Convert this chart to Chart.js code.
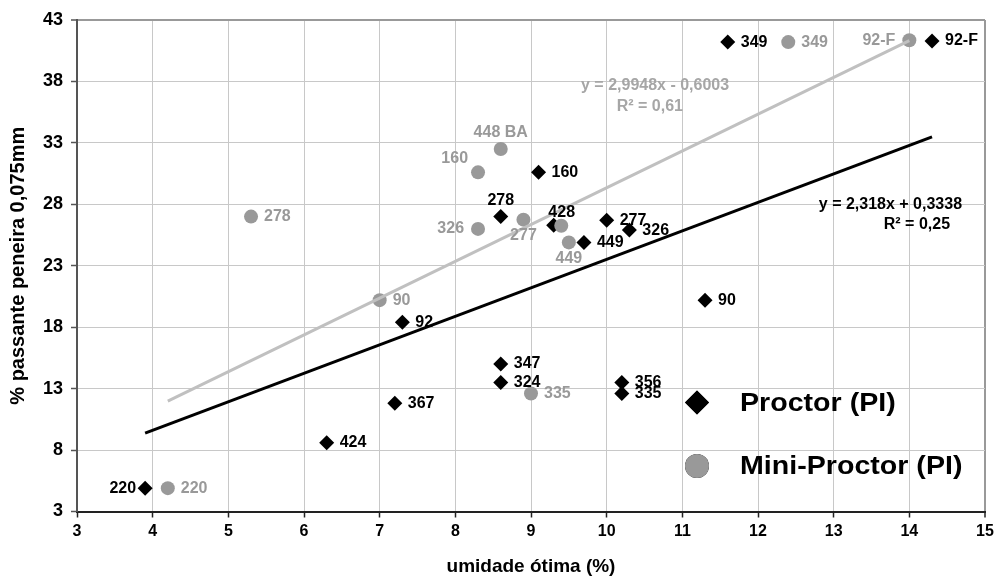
<!DOCTYPE html>
<html>
<head>
<meta charset="utf-8">
<script src="https://cdn.jsdelivr.net/npm/chart.js@4.4.1/dist/chart.umd.min.js"></script>
<style>
  html, body { margin: 0; padding: 0; background: #ffffff; }
  #wrap { width: 999px; height: 583px; position: relative; }
</style>
</head>
<body>
<div id="wrap"><canvas id="chart" width="999" height="583"></canvas></div>
<script>
// Proctor (PI) samples: optimum moisture (%) vs. % passing the 0,075mm sieve
const proctorNames = ['220', '424', '367', '92', '347', '324', '278', '160', '428', '449', '277', '326', '356', '335', '90', '349', '92-F'];
const proctorX     = [3.9, 6.3, 7.2, 7.3, 8.6, 8.6, 8.6, 9.1, 9.3, 9.7, 10.0, 10.3, 10.2, 10.2, 11.3, 11.6, 14.3];
const proctorY     = [4.9, 8.6, 11.8, 18.4, 15.0, 13.5, 27.0, 30.6, 26.3, 24.9, 26.7, 25.9, 13.5, 12.6, 20.2, 41.2, 41.3];

// Mini-Proctor (PI) samples
const miniNames = ['220', '278', '90', '326', '160', '448 BA', '277', '428', '449', '335', '349', '92-F'];
const miniX     = [4.2, 5.3, 7.0, 8.3, 8.3, 8.6, 8.9, 9.4, 9.5, 9.0, 12.4, 14.0];
const miniY     = [4.9, 27.0, 20.2, 26.0, 30.6, 32.5, 26.75, 26.25, 24.9, 12.6, 41.2, 41.35];

// Linear trendlines (slope, intercept) and their R² text
const proctorFit = { slope: 2.318, intercept: 0.3338, eq: 'y = 2,318x + 0,3338', r2: 'R² = 0,25' };
const miniFit    = { slope: 2.9948, intercept: -0.6003, eq: 'y = 2,9948x - 0,6003', r2: 'R² = 0,61' };

// Axis ticks
const xTicks = [3, 4, 5, 6, 7, 8, 9, 10, 11, 12, 13, 14, 15];
const yTicks = [3, 8, 13, 18, 23, 28, 33, 38, 43];

// Where each point label sits relative to its marker
const proctorLabelPos = ['l', 'r', 'r', 'r', 'r', 'r', 't', 'r', 'tr', 'r', 'r', 'r', 'r', 'r', 'r', 'r', 'r'];
const miniLabelPos    = ['r', 'r', 'r', 'l', 'tl', 't', 'b', 'none', 'b', 'r', 'r', 'l'];

const FONT = "'Liberation Sans', Arial, Helvetica, sans-serif";
const GRAY = '#999999';
const BLACK = '#000000';

function toPoints(xs, ys) { return xs.map((x, i) => ({ x: x, y: ys[i] })); }
function fitLine(fit, xs) {
  const lo = Math.min(...xs), hi = Math.max(...xs);
  return [lo, hi].map(x => ({ x: x, y: fit.slope * x + fit.intercept }));
}

// Point labels next to each marker
const pointLabels = {
  id: 'pointLabels',
  afterDatasetsDraw(chart) {
    const ctx = chart.ctx;
    chart.data.datasets.forEach((ds, di) => {
      if (!ds.names) return;
      const meta = chart.getDatasetMeta(di);
      ctx.save();
      ctx.font = 'bold 16px ' + FONT;
      ctx.fillStyle = ds.labelColor;
      meta.data.forEach((el, i) => {
        const where = ds.labelPos[i];
        if (where === 'none') return;
        const { x, y } = el.getProps(['x', 'y'], true);
        let tx = x, ty = y, align = 'center';
        if (where === 'r') { tx = x + 13; align = 'left'; }
        else if (where === 'l') { tx = x - (ds.names === proctorNames ? 9 : 14); align = 'right'; }
        else if (where === 't') { ty = y - 16; }
        else if (where === 'b') { ty = y + 16; }
        else if (where === 'tr') { tx = x + 8; ty = y - 13; }
        else if (where === 'tl') { tx = x - 10; ty = y - 14; align = 'right'; }
        ctx.textAlign = align;
        ctx.textBaseline = 'middle';
        ctx.fillText(ds.names[i], tx, ty);
      });
      ctx.restore();
    });
  }
};

// Trendline equations, anchored in data units
const equationLabels = {
  id: 'equationLabels',
  afterDatasetsDraw(chart) {
    const ctx = chart.ctx, sx = chart.scales.x, sy = chart.scales.y;
    const items = [
      { fit: miniFit, color: '#a6a6a6', at: [10.64, 37.66], r2at: [10.57, 35.95] },
      { fit: proctorFit, color: BLACK, at: [13.75, 28.0], r2at: [14.1, 26.35] }
    ];
    ctx.save();
    ctx.font = 'bold 16px ' + FONT;
    ctx.textAlign = 'center';
    ctx.textBaseline = 'middle';
    items.forEach(it => {
      ctx.fillStyle = it.color;
      ctx.fillText(it.fit.eq, sx.getPixelForValue(it.at[0]), sy.getPixelForValue(it.at[1]));
      ctx.fillText(it.fit.r2, sx.getPixelForValue(it.r2at[0]), sy.getPixelForValue(it.r2at[1]));
    });
    ctx.restore();
  }
};

// Legend box inside the lower right of the plot
const legendOrder = ['Proctor (PI)', 'Mini-Proctor (PI)'];
const insideLegend = {
  id: 'insideLegend',
  afterDraw(chart) {
    const ctx = chart.ctx, area = chart.chartArea;
    const entries = legendOrder.map(name => chart.data.datasets.find(d => d.label === name));
    ctx.save();
    ctx.font = 'bold 26px ' + FONT;
    ctx.textBaseline = 'middle';
    ctx.textAlign = 'left';
    entries.forEach((ds, i) => {
      const cx = area.right - 288, cy = area.bottom - 109 + i * 63.4;
      Chart.helpers.drawPoint(ctx, {
        pointStyle: ds.pointStyle, radius: 12, rotation: 0, borderWidth: 0
      }, cx, cy);
      ctx.fillStyle = ds.backgroundColor;
      ctx.fill();
      ctx.fillStyle = BLACK;
      ctx.save();
      ctx.translate(cx + 43, cy);
      ctx.scale(1.1, 1);
      ctx.fillText(ds.label, 0, 1);
      ctx.restore();
    });
    ctx.restore();
  }
};

const data = {
  datasets: [
    {
      type: 'line', label: 'trend mini', data: fitLine(miniFit, miniX),
      borderColor: '#c0c0c0', borderWidth: 3, pointRadius: 0, fill: false, order: 0
    },
    {
      type: 'line', label: 'trend proctor', data: fitLine(proctorFit, proctorX),
      borderColor: BLACK, borderWidth: 3, pointRadius: 0, fill: false, order: 0
    },
    {
      label: 'Mini-Proctor (PI)', data: toPoints(miniX, miniY),
      names: miniNames, labelPos: miniLabelPos, labelColor: GRAY,
      pointStyle: 'circle', pointRadius: 7, backgroundColor: GRAY, borderWidth: 0, order: 1
    },
    {
      label: 'Proctor (PI)', data: toPoints(proctorX, proctorY),
      names: proctorNames, labelPos: proctorLabelPos, labelColor: BLACK,
      pointStyle: 'rectRot', pointRadius: 7.5, backgroundColor: BLACK, borderWidth: 0, order: 2
    }
  ]
};

const xTickFont = { family: FONT, size: 16, weight: 'bold' };
const yTickFont = { family: FONT, size: 18, weight: 'bold' };

new Chart(document.getElementById('chart'), {
  type: 'scatter',
  data: data,
  plugins: [pointLabels, equationLabels, insideLegend],
  options: {
    responsive: false,
    animation: false,
    devicePixelRatio: 1,
    layout: { padding: { top: 20, right: 14, left: 0, bottom: 0 } },
    plugins: { legend: { display: false }, tooltip: { enabled: false } },
    scales: {
      x: {
        type: 'linear', min: 3, max: 15,
        afterBuildTicks: s => { s.ticks = xTicks.map(v => ({ value: v })); },
        afterFit: s => { s.height = 71.5; },
        border: { display: true, color: '#222222', width: 2 },
        grid: {
          color: c => c.index === 0 ? 'rgba(0,0,0,0)' : (c.index === xTicks.length - 1 ? '#999999' : '#c8c8c8'),
          lineWidth: c => c.index === xTicks.length - 1 ? 2 : 1,
          drawTicks: true, tickLength: 6, tickColor: '#222222', tickWidth: 1.5
        },
        ticks: { font: xTickFont, color: BLACK, padding: 4, maxRotation: 0, autoSkip: false },
        title: { display: true, text: 'umidade ótima (%)', font: { family: FONT, size: 19, weight: 'bold' }, color: BLACK, padding: { top: 0, bottom: 5 } }
      },
      y: {
        type: 'linear', min: 3, max: 43,
        afterBuildTicks: s => { s.ticks = yTicks.map(v => ({ value: v })); },
        afterFit: s => { s.width = 77; },
        border: { display: true, color: '#555555', width: 2 },
        grid: {
          color: c => c.index === 0 ? 'rgba(0,0,0,0)' : (c.index === yTicks.length - 1 ? '#999999' : '#c8c8c8'),
          lineWidth: c => c.index === yTicks.length - 1 ? 2 : 1,
          drawTicks: true, tickLength: 6, tickColor: '#555555', tickWidth: 1.5
        },
        ticks: { font: yTickFont, color: BLACK, padding: 8, autoSkip: false },
        title: { display: true, text: '% passante peneira 0,075mm', font: { family: FONT, size: 20, weight: 'bold' }, color: BLACK, padding: { top: 6, bottom: 0 } }
      }
    }
  }
});
</script>
</body>
</html>
